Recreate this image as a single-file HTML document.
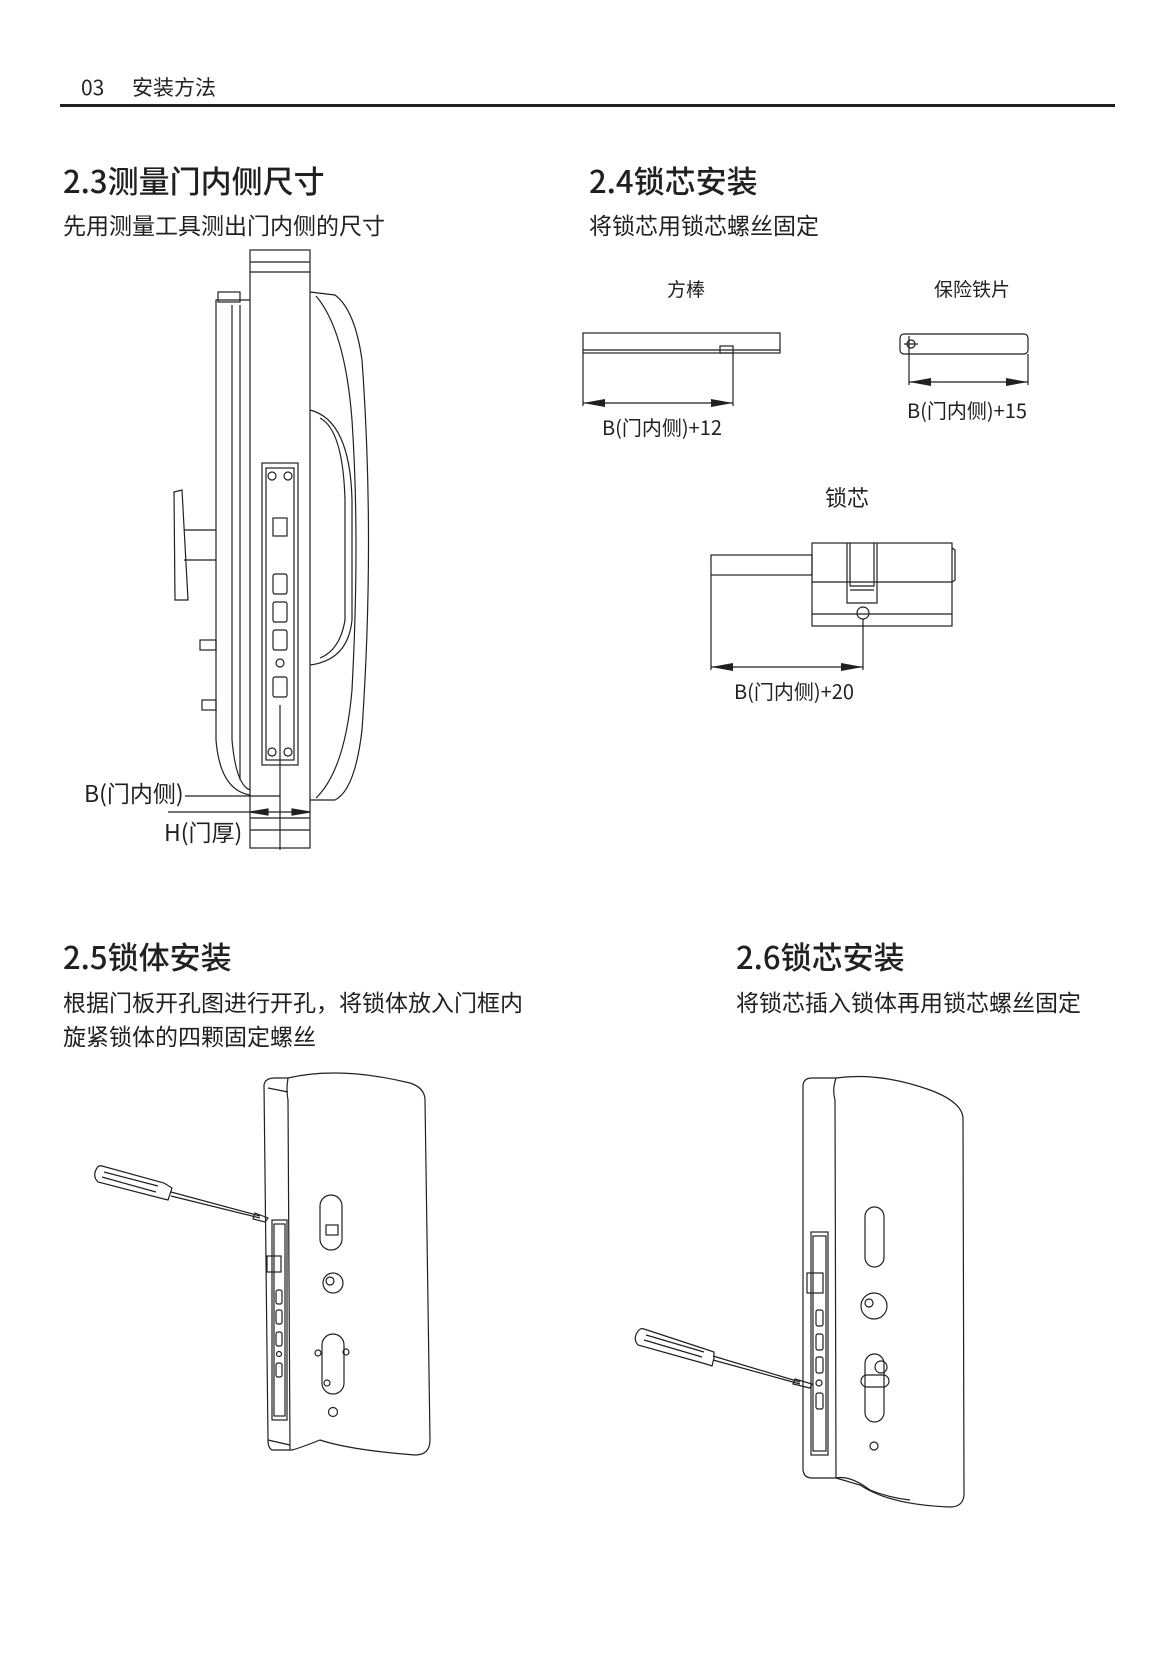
<!DOCTYPE html>
<html><head><meta charset="utf-8"><style>
html,body{margin:0;padding:0;background:#fff}
svg{display:block}
text{font-family:"Liberation Sans","Noto Sans CJK SC",sans-serif;fill:#231f20}
.cj{font-family:"Noto Sans CJK SC","Liberation Sans",sans-serif}
</style></head><body>
<svg width="1169" height="1654" viewBox="0 0 1169 1654" xmlns="http://www.w3.org/2000/svg" fill="none" stroke="#231f20" stroke-width="1.2">
<!-- header -->
<text x="81" y="95" font-size="21" stroke="none" class="cj">03</text>
<text x="132" y="95" font-size="21" stroke="none" class="cj">安装方法</text>
<rect x="60" y="104" width="1055" height="3" fill="#231f20" stroke="none"/>

<text x="63" y="193" font-size="31" font-weight="500" stroke="none" class="cj">2.3测量门内侧尺寸</text>
<text x="63" y="234" font-size="23" stroke="none" class="cj">先用测量工具测出门内侧的尺寸</text>
<text x="589" y="193" font-size="31" font-weight="500" stroke="none" class="cj">2.4锁芯安装</text>
<text x="589" y="234" font-size="23" stroke="none" class="cj">将锁芯用锁芯螺丝固定</text>

<!-- 2.3 drawing -->
<g>
<rect x="250" y="250" width="60" height="598"/>
<line x1="250" y1="262" x2="310" y2="262"/><line x1="250" y1="272" x2="310" y2="272"/>
<line x1="250" y1="818" x2="310" y2="818"/><line x1="250" y1="830" x2="310" y2="830"/>
<path d="M250 300 L216 300 L216 740 Q220 790 250 795"/>
<path d="M232 305 L232 740 Q236 785 250 790"/>
<path d="M240 305 L240 780"/>
<rect x="218" y="292" width="22" height="10"/>
<path d="M174 492 L182 490 L188 600 L175 600 Z"/>
<path d="M184 530 L216 530 M184 560 L216 560"/>
<rect x="200" y="640" width="16" height="10"/><rect x="202" y="700" width="14" height="10"/>
<path d="M310 292 L335 295 Q355 310 362 360 Q375 540 362 730 Q355 790 335 800 L310 800"/>
<path d="M316 296 Q345 330 352 420 Q360 540 352 690 Q345 770 316 798"/>
<path d="M310 410 Q350 420 352 500 L352 620 Q348 660 310 665"/>
<path d="M320 418 Q343 430 345 500 L345 620 Q340 650 320 658"/>
<rect x="262" y="463" width="36" height="302"/>
<rect x="266" y="468" width="28" height="292"/>
<circle cx="272" cy="476" r="4"/><circle cx="288" cy="476" r="4"/>
<circle cx="272" cy="752" r="4"/><circle cx="288" cy="752" r="4"/>
<rect x="273" y="518" width="14" height="18"/>
<rect x="273" y="574" width="14" height="20" rx="2"/>
<rect x="273" y="602" width="14" height="20" rx="2"/>
<rect x="273" y="630" width="14" height="20" rx="2"/>
<circle cx="280" cy="663" r="4"/>
<rect x="273" y="677" width="14" height="20" rx="2"/>
<line x1="280" y1="705" x2="280" y2="850"/>
<line x1="185" y1="796" x2="280" y2="796"/>
<line x1="168" y1="812" x2="305" y2="812"/>
<path d="M250 812 L268 809 L268 815 Z M310 812 L292 809 L292 815 Z" fill="#231f20"/>
<text x="84" y="802" font-size="23" stroke="none" class="cj">B(门内侧)</text>
<text x="164" y="841" font-size="23" stroke="none" class="cj">H(门厚)</text>
</g>

<!-- 2.4 drawings -->
<text x="686" y="296" font-size="19" stroke="none" text-anchor="middle" class="cj">方棒</text>
<text x="972" y="296" font-size="19" stroke="none" text-anchor="middle" class="cj">保险铁片</text>
<rect x="583" y="333" width="197" height="20"/>
<line x1="583" y1="350" x2="780" y2="350"/>
<rect x="720" y="346" width="13" height="7"/>
<line x1="583" y1="353" x2="583" y2="406"/><line x1="733" y1="353" x2="733" y2="406"/>
<line x1="583" y1="403" x2="733" y2="403"/>
<path d="M583 403 L605 399 L605 407 Z M733 403 L711 399 L711 407 Z" fill="#231f20" stroke="none"/>
<text x="662" y="435" font-size="20" stroke="none" text-anchor="middle" class="cj">B(门内侧)+12</text>

<rect x="900" y="334" width="128" height="20" rx="4"/>
<circle cx="911" cy="344" r="4"/><line x1="904" y1="344" x2="918" y2="344"/>
<line x1="909" y1="336" x2="909" y2="385"/><line x1="1028" y1="354" x2="1028" y2="385"/>
<line x1="909" y1="382" x2="1028" y2="382"/>
<path d="M909 382 L931 378 L931 386 Z M1028 382 L1006 378 L1006 386 Z" fill="#231f20" stroke="none"/>
<text x="967" y="418" font-size="20" stroke="none" text-anchor="middle" class="cj">B(门内侧)+15</text>

<text x="847" y="506" font-size="22" stroke="none" text-anchor="middle" class="cj">锁芯</text>
<rect x="812" y="543" width="140" height="83"/>
<rect x="711" y="555" width="101" height="20"/>
<line x1="711" y1="575" x2="711" y2="670"/>
<line x1="812" y1="582" x2="952" y2="582"/>
<line x1="812" y1="614" x2="952" y2="614"/>
<path d="M847 543 L847 603 L877 603 L877 543"/>
<path d="M850 543 L850 586 L874 586 L874 543"/>
<line x1="850" y1="590" x2="874" y2="590"/>
<path d="M952 548 L955 550 L955 580 L952 582"/>
<circle cx="863" cy="613" r="6"/>
<line x1="863" y1="619" x2="863" y2="670"/>
<line x1="711" y1="667" x2="863" y2="667"/>
<path d="M711 667 L733 663 L733 671 Z M863 667 L841 663 L841 671 Z" fill="#231f20" stroke="none"/>
<text x="794" y="699" font-size="20" stroke="none" text-anchor="middle" class="cj">B(门内侧)+20</text>

<!-- 2.5 / 2.6 titles -->
<text x="63" y="969" font-size="31" font-weight="500" stroke="none" class="cj">2.5锁体安装</text>
<text x="63" y="1011" font-size="23" stroke="none" class="cj">根据门板开孔图进行开孔，将锁体放入门框内</text>
<text x="63" y="1045" font-size="23" stroke="none" class="cj">旋紧锁体的四颗固定螺丝</text>
<text x="736" y="969" font-size="31" font-weight="500" stroke="none" class="cj">2.6锁芯安装</text>
<text x="736" y="1011" font-size="23" stroke="none" class="cj">将锁芯插入锁体再用锁芯螺丝固定</text>

<!-- 2.5 drawing -->
<g>
<path d="M264 1085 Q265 1078 275 1078 L288 1078 Q340 1066 410 1083 Q425 1088 425 1100 L430 1440 Q430 1455 415 1455 Q350 1450 320 1440 Q300 1448 292 1450 L272 1450 Q268 1448 268 1440 Z"/>
<path d="M288 1078 Q286 1090 288 1100 L290 1450"/>
<path d="M268 1088 L288 1092"/>
<path d="M268 1440 L290 1445"/>
<rect x="272" y="1220" width="15" height="200"/>
<rect x="274" y="1224" width="11" height="192"/>
<rect x="267" y="1256" width="14" height="16"/>
<rect x="276" y="1290" width="6" height="14" rx="2"/><rect x="276" y="1310" width="6" height="14" rx="2"/>
<rect x="276" y="1332" width="6" height="14" rx="2"/><rect x="276" y="1363" width="6" height="14" rx="2"/>
<circle cx="279" cy="1354" r="2.5"/>
<rect x="320" y="1195" width="22" height="55" rx="11"/>
<rect x="326" y="1225" width="12" height="10"/>
<circle cx="333" cy="1283" r="10"/><circle cx="330" cy="1281" r="4"/>
<rect x="322" y="1334" width="22" height="60" rx="11"/>
<circle cx="318" cy="1353" r="3"/><circle cx="346" cy="1352" r="3"/>
<circle cx="327" cy="1383" r="3"/>
<circle cx="333" cy="1412" r="4.5"/>
<path d="M97 1168 Q92 1176 98 1182 L160 1198 L168 1200 L170 1194 L172 1188 L164 1183 L102 1166 Q99 1165 97 1168 Z"/>
<path d="M104 1172 L158 1186 M102 1177 L156 1192"/>
<path d="M171 1192 L260 1216 M171 1196 L260 1218"/>
<path d="M255 1213 L268 1218 L265 1222 L253 1219 Z"/>
</g>

<!-- 2.6 drawing -->
<g>
<path d="M803 1085 Q804 1078 812 1078 L836 1078 Q880 1072 930 1090 Q962 1102 963 1118 L964 1495 Q963 1507 950 1507 Q890 1505 860 1485 L836 1478 L812 1478 Q804 1478 803 1470 Z"/>
<path d="M836 1078 Q832 1090 835 1100 L836 1478"/>
<path d="M836 1478 Q850 1475 870 1490 Q890 1498 910 1500"/>
<rect x="811" y="1232" width="17" height="223"/>
<rect x="813" y="1236" width="13" height="215"/>
<rect x="807" y="1273" width="16" height="20"/>
<rect x="816" y="1310" width="7" height="16" rx="2"/><rect x="816" y="1334" width="7" height="16" rx="2"/>
<rect x="816" y="1357" width="7" height="16" rx="2"/><rect x="816" y="1393" width="7" height="16" rx="2"/>
<circle cx="819" cy="1383" r="3"/>
<rect x="865" y="1207" width="19" height="60" rx="9.5"/>
<circle cx="874" cy="1306" r="13"/><circle cx="869" cy="1303" r="4"/>
<rect x="865" y="1354" width="19" height="68" rx="9.5"/>
<circle cx="881" cy="1367" r="6"/>
<rect x="861" y="1375" width="28" height="12" rx="6"/>
<circle cx="874" cy="1446" r="4"/>
<path d="M639 1330 Q632 1338 638 1345 L706 1364 L712 1366 L714 1358 L714 1352 L708 1350 L644 1329 Q641 1328 639 1330 Z"/>
<path d="M646 1335 L704 1352 M644 1340 L702 1357"/>
<path d="M713 1356 L800 1382 M713 1360 L800 1384"/>
<path d="M795 1379 L812 1384 L810 1388 L793 1384 Z"/>
</g>
</svg>
</body></html>
